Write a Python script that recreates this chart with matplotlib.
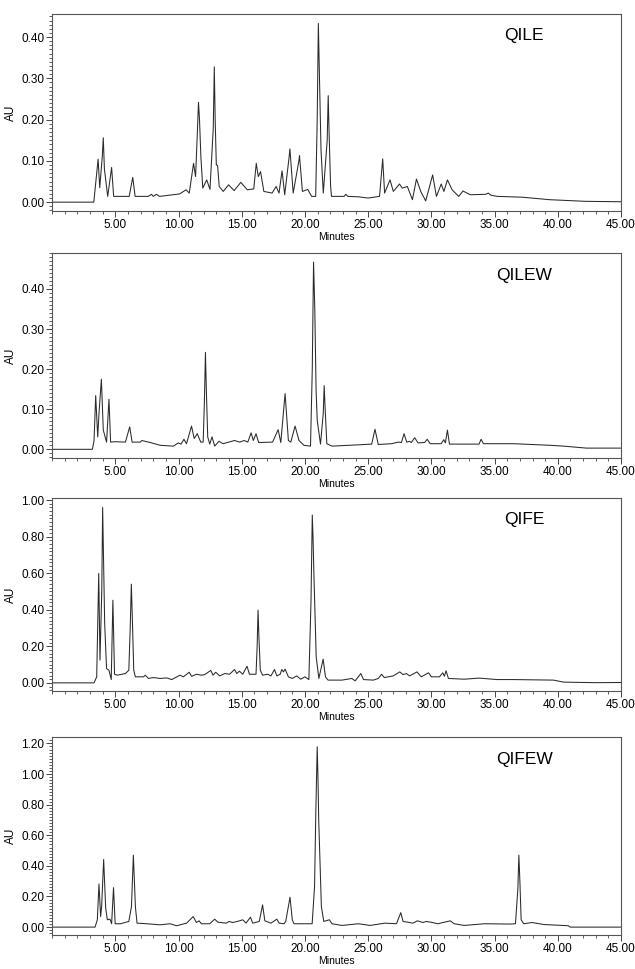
import matplotlib
matplotlib.use("Agg")
import matplotlib.pyplot as plt
from matplotlib.ticker import MultipleLocator, AutoMinorLocator, FormatStrFormatter

plt.rcParams['font.family'] = ['Liberation Sans', 'DejaVu Sans']

# retention time (min) / absorbance (AU)
qile_t = [0, 3.3, 3.64, 3.77, 3.97, 4.05, 4.14, 4.40, 4.71, 4.87, 6.1, 6.38, 6.57, 7.6, 7.87, 8.0,
          8.26, 8.5, 10.09, 10.6, 10.85, 11.19, 11.35, 11.48, 11.58, 11.66, 11.77, 11.92, 12.23,
          12.49, 12.75, 12.83, 12.90, 12.99, 13.09, 13.22, 13.54, 13.96, 14.4, 14.93, 15.44, 15.95,
          16.15, 16.31, 16.49, 16.75, 17.4, 17.72, 17.95, 18.19, 18.4, 18.75, 18.81, 19.07, 19.52,
          19.57, 19.8, 20.22, 20.53, 20.85, 20.97, 21.06, 21.13, 21.27, 21.45, 21.76, 21.84, 21.9,
          22.03, 22.1, 23.1, 23.23, 23.4, 24.2, 25.0, 25.9, 26.15, 26.3, 26.73, 26.99, 27.48, 27.7,
          28.1, 28.5, 28.82, 29.16, 29.55, 30.1, 30.4, 30.78, 30.99, 31.27, 31.64, 32.16, 32.5,
          33.07, 34.3, 34.5, 34.7, 35.2, 37.2, 39.34, 42.2, 45]
qile_au = [0, 0, 0.104, 0.035, 0.110, 0.156, 0.080, 0.014, 0.084, 0.014, 0.014, 0.060, 0.014, 0.014,
           0.019, 0.014, 0.019, 0.014, 0.020, 0.030, 0.022, 0.094, 0.062, 0.160, 0.242, 0.200, 0.110,
           0.034, 0.054, 0.031, 0.180, 0.328, 0.200, 0.090, 0.089, 0.038, 0.026, 0.042, 0.028, 0.048,
           0.030, 0.032, 0.094, 0.062, 0.074, 0.026, 0.022, 0.038, 0.022, 0.076, 0.018, 0.110, 0.129,
           0.022, 0.100, 0.113, 0.026, 0.031, 0.014, 0.014, 0.200, 0.433, 0.330, 0.127, 0.022, 0.150,
           0.258, 0.180, 0.038, 0.014, 0.014, 0.019, 0.014, 0.013, 0.010, 0.014, 0.105, 0.022, 0.054,
           0.026, 0.044, 0.034, 0.038, 0.006, 0.056, 0.026, 0.003, 0.066, 0.014, 0.044, 0.026, 0.054,
           0.030, 0.014, 0.027, 0.018, 0.019, 0.022, 0.017, 0.014, 0.012, 0.006, 0.002, 0.001]

qilew_t = [0, 3.19, 3.32, 3.45, 3.61, 3.71, 3.90, 4.05, 4.31, 4.50, 4.63, 5.0, 5.8, 6.14, 6.33, 6.98,
           7.1, 7.76, 8.55, 9.6, 9.99, 10.2, 10.43, 10.63, 11.03, 11.24, 11.48, 11.76, 11.95, 12.05,
           12.13, 12.2, 12.31, 12.47, 12.65, 12.86, 13.2, 13.52, 14.43, 14.83, 15.2, 15.48, 15.74,
           15.92, 16.13, 16.34, 17.44, 17.88, 18.09, 18.43, 18.69, 18.88, 19.22, 19.53, 19.92, 20.44,
           20.58, 20.68, 20.78, 20.88, 20.97, 21.23, 21.45, 21.52, 21.6, 21.73, 22.14, 24.1, 25.28,
           25.54, 25.8, 26.85, 27.37, 27.63, 27.84, 28.05, 28.28, 28.41, 28.68, 28.94, 29.46, 29.67,
           29.91, 30.77, 30.98, 31.11, 31.27, 31.43, 32.34, 33.77, 33.93, 34.12, 36.52, 39.4, 40.45,
           42.27, 45]
qilew_au = [0, 0, 0.022, 0.134, 0.031, 0.089, 0.175, 0.048, 0.018, 0.125, 0.018, 0.019, 0.018, 0.056,
            0.018, 0.018, 0.022, 0.017, 0.010, 0.008, 0.016, 0.013, 0.025, 0.014, 0.058, 0.027, 0.039,
            0.018, 0.018, 0.120, 0.242, 0.150, 0.031, 0.013, 0.031, 0.008, 0.020, 0.014, 0.022, 0.018,
            0.022, 0.018, 0.041, 0.022, 0.039, 0.017, 0.018, 0.049, 0.017, 0.139, 0.022, 0.018, 0.058,
            0.022, 0.010, 0.008, 0.200, 0.467, 0.350, 0.150, 0.073, 0.013, 0.090, 0.159, 0.100, 0.014,
            0.008, 0.011, 0.013, 0.050, 0.012, 0.014, 0.018, 0.017, 0.039, 0.018, 0.020, 0.017, 0.029,
            0.016, 0.017, 0.025, 0.014, 0.014, 0.024, 0.016, 0.048, 0.013, 0.013, 0.013, 0.025, 0.014,
            0.014, 0.010, 0.008, 0.003, 0.003]

qife_t = [0, 3.32, 3.53, 3.69, 3.79, 3.93, 4.00, 4.16, 4.31, 4.50, 4.68, 4.81, 4.94, 5.15, 5.8, 6.07,
          6.18, 6.27, 6.35, 6.46, 6.59, 7.24, 7.37, 7.63, 8.03, 8.55, 9.07, 9.46, 10.12, 10.38, 10.85,
          11.03, 11.42, 11.81, 12.07, 12.55, 12.73, 12.94, 13.26, 13.65, 14.04, 14.43, 14.61, 14.82,
          15.08, 15.42, 15.61, 16.13, 16.22, 16.29, 16.36, 16.47, 16.65, 17.05, 17.31, 17.59, 17.78,
          18.04, 18.17, 18.3, 18.43, 18.69, 19.0, 19.35, 19.66, 20.0, 20.31, 20.48, 20.58, 20.64,
          20.70, 20.89, 21.1, 21.44, 21.62, 21.83, 22.93, 23.71, 23.97, 24.42, 24.63, 25.41, 25.8,
          26.06, 26.27, 26.59, 26.98, 27.5, 27.76, 28.02, 28.28, 28.86, 29.2, 29.78, 29.99, 30.64,
          30.9, 31.03, 31.16, 31.35, 32.6, 33.78, 35.2, 36.52, 39.66, 40.45, 43.0, 45]
qife_au = [0, 0, 0.033, 0.599, 0.124, 0.500, 0.960, 0.325, 0.078, 0.069, 0.018, 0.452, 0.047, 0.042,
           0.051, 0.069, 0.300, 0.540, 0.350, 0.069, 0.033, 0.033, 0.042, 0.024, 0.029, 0.024, 0.027,
           0.018, 0.042, 0.033, 0.058, 0.036, 0.047, 0.042, 0.045, 0.068, 0.042, 0.058, 0.038, 0.051,
           0.047, 0.073, 0.051, 0.064, 0.047, 0.091, 0.047, 0.047, 0.200, 0.398, 0.250, 0.069, 0.042,
           0.047, 0.038, 0.073, 0.038, 0.047, 0.073, 0.060, 0.075, 0.033, 0.024, 0.038, 0.020, 0.033,
           0.018, 0.450, 0.918, 0.800, 0.617, 0.142, 0.024, 0.130, 0.033, 0.015, 0.015, 0.024, 0.011,
           0.051, 0.018, 0.015, 0.024, 0.047, 0.029, 0.033, 0.038, 0.060, 0.045, 0.051, 0.038, 0.060,
           0.033, 0.055, 0.033, 0.033, 0.055, 0.036, 0.066, 0.024, 0.020, 0.026, 0.018, 0.018, 0.015,
           0.004, 0.001, 0.002]

qifew_t = [0, 3.4, 3.58, 3.71, 3.84, 3.92, 4.08, 4.24, 4.37, 4.58, 4.71, 4.86, 4.99, 5.41, 6.07, 6.28,
           6.43, 6.59, 6.72, 7.5, 8.55, 9.33, 9.86, 10.64, 11.16, 11.42, 11.63, 11.81, 12.47, 12.86,
           13.12, 13.78, 13.99, 14.3, 14.82, 15.08, 15.34, 15.69, 15.87, 16.39, 16.65, 16.83, 17.31,
           17.78, 17.96, 18.35, 18.48, 18.82, 19.0, 19.13, 20.05, 20.57, 20.76, 20.86, 20.97, 21.03,
           21.09, 21.3, 21.49, 21.93, 22.14, 22.93, 24.23, 25.15, 26.33, 27.24, 27.58, 27.76, 28.15,
           28.54, 28.89, 29.33, 29.59, 29.98, 30.5, 31.5, 31.8, 32.6, 34.2, 36.26, 36.65, 36.84, 36.92,
           37.0, 37.1, 37.3, 37.96, 38.9, 40.84, 40.97, 45]
qifew_au = [0, 0, 0.048, 0.282, 0.069, 0.134, 0.442, 0.125, 0.048, 0.052, 0.022, 0.258, 0.022, 0.022,
            0.037, 0.134, 0.470, 0.134, 0.026, 0.022, 0.015, 0.022, 0.009, 0.026, 0.069, 0.030, 0.041,
            0.022, 0.022, 0.052, 0.032, 0.026, 0.037, 0.030, 0.041, 0.048, 0.026, 0.065, 0.026, 0.037,
            0.145, 0.041, 0.026, 0.052, 0.026, 0.022, 0.037, 0.195, 0.048, 0.022, 0.022, 0.022, 0.264,
            0.750, 1.178, 0.980, 0.698, 0.134, 0.037, 0.048, 0.022, 0.011, 0.022, 0.011, 0.026, 0.022,
            0.095, 0.037, 0.032, 0.026, 0.041, 0.030, 0.037, 0.032, 0.022, 0.041, 0.022, 0.011, 0.022,
            0.020, 0.022, 0.250, 0.470, 0.300, 0.048, 0.022, 0.030, 0.017, 0.009, 0, 0]

traces = [
    ("QILE", qile_t, qile_au, (-0.022, 0.456), 0.10),
    ("QILEW", qilew_t, qilew_au, (-0.0225, 0.49), 0.10),
    ("QIFE", qife_t, qife_au, (-0.044, 1.011), 0.20),
    ("QIFEW", qifew_t, qifew_au, (-0.052, 1.239), 0.20),
]
boxes = [(0.782, 0.9856), (0.527, 0.739), (0.287, 0.486), (0.035, 0.239)]

fig = plt.figure(figsize=(6.35, 9.69), dpi=100)
for (name, t, au, ylim, step), (bot, top) in zip(traces, boxes):
    ax = fig.add_axes([0.082, bot, 0.896, top - bot])
    ax.plot(t, au, color="#2a2a2a", lw=0.75)
    ax.set_xlim(0, 45)
    ax.set_ylim(*ylim)
    ax.xaxis.set_minor_locator(MultipleLocator(1))
    ax.yaxis.set_major_locator(MultipleLocator(step))
    ax.yaxis.set_minor_locator(AutoMinorLocator(10))
    ax.xaxis.set_major_formatter(FormatStrFormatter("%.2f"))
    ax.yaxis.set_major_formatter(FormatStrFormatter("%.2f"))
    ax.set_xticks([v for v in range(5, 46, 5)])
    ax.tick_params(which="major", length=4, width=0.7, labelsize=8.5, pad=1.5, color="#444444")
    ax.tick_params(which="minor", length=2, width=0.6, color="#444444")
    for s in ax.spines.values():
        s.set_color("#555555")
        s.set_linewidth(0.8)
    ax.set_xlabel("Minutes", fontsize=7.5, labelpad=1)
    ax.set_ylabel("AU", fontsize=8.5, labelpad=3)
    ax.text(0.83, 0.89, name, transform=ax.transAxes, fontsize=12.5,
            ha="center", va="center")

fig.savefig("out.png", dpi=100)
